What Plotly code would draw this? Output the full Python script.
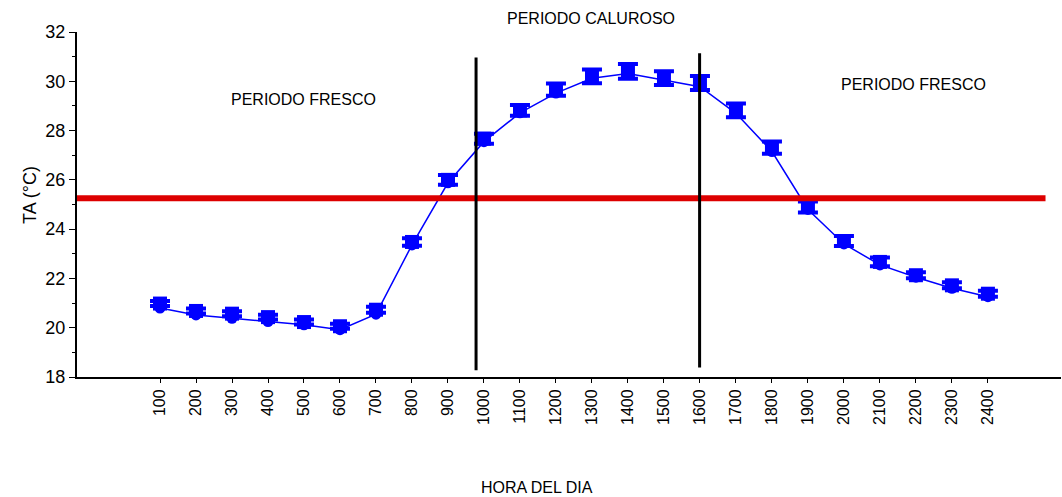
import plotly.graph_objects as go

FONT = "Liberation Sans, Arial, sans-serif"

hours = ["100", "200", "300", "400", "500", "600", "700", "800", "900", "1000", "1100", "1200",
         "1300", "1400", "1500", "1600", "1700", "1800", "1900", "2000", "2100", "2200", "2300", "2400"]
ta_squares = [20.98, 20.68, 20.57, 20.43, 20.23, 20.06, 20.73, 23.48, 26.0, 27.67, 28.82, 29.66,
              30.2, 30.4, 30.13, 29.93, 28.82, 27.31, 24.9, 23.52, 22.67, 22.13, 21.72, 21.38]
ta_err = [0.1, 0.1, 0.1, 0.1, 0.1, 0.1, 0.12, 0.15, 0.2, 0.2, 0.22, 0.25,
          0.28, 0.3, 0.28, 0.28, 0.28, 0.25, 0.22, 0.2, 0.18, 0.12, 0.12, 0.12]
ta_circles = [20.8, 20.52, 20.38, 20.25, 20.12, 19.92, 20.55, 23.36, 25.88, 27.55, 28.72, 29.52,
              30.12, 30.32, 30.05, 29.78, 28.7, 27.15, 24.8, 23.4, 22.55, 22.05, 21.6, 21.26]

threshold = 25.25
dividers = [9.78, 15.99]
divider_spans = [(18.27, 30.97), (18.39, 31.14)]

pos = list(range(1, len(hours) + 1))

fig = go.Figure()

fig.add_trace(go.Scatter(
    x=pos, y=ta_squares, mode="markers",
    marker=dict(symbol="square", size=14, color="#0000ff"),
    error_y=dict(type="data", array=ta_err, color="#0000ff", thickness=4, width=10),
    showlegend=False,
))
fig.add_trace(go.Scatter(
    x=pos, y=ta_circles, mode="lines+markers",
    line=dict(color="#0000ff", width=1.5),
    marker=dict(symbol="circle", size=11, color="#0000ff"),
    showlegend=False,
))

# umbral
fig.add_shape(type="line", xref="x", yref="y", x0=-1.306, x1=25.6, y0=threshold, y1=threshold,
              line=dict(color="#dd0000", width=6))
for xv, (y0, y1) in zip(dividers, divider_spans):
    fig.add_shape(type="line", xref="x", yref="y", x0=xv, x1=xv, y0=y0, y1=y1,
                  line=dict(color="black", width=3))

ann_font = dict(family=FONT, size=16, color="black")
fig.add_annotation(x=0.5224, y=1.0377, xref="paper", yref="paper", text="PERIODO CALUROSO",
                   showarrow=False, font=ann_font, yanchor="middle")
fig.add_annotation(x=5.0, y=29.27, xref="x", yref="y", text="PERIODO FRESCO",
                   showarrow=False, font=ann_font)
fig.add_annotation(x=21.94, y=29.86, xref="x", yref="y", text="PERIODO FRESCO",
                   showarrow=False, font=ann_font)
fig.add_annotation(x=0.4675, y=-0.3217, xref="paper", yref="paper", text="HORA DEL DIA",
                   showarrow=False, font=ann_font, yanchor="middle")
fig.add_annotation(x=-0.06, y=0.5275, xref="paper", yref="paper", text="TA (°C)",
                   showarrow=False, font=dict(family=FONT, size=18, color="black"),
                   textangle=-90)

fig.update_layout(
    width=1062, height=497,
    margin=dict(l=77, r=1, t=32, b=120),
    paper_bgcolor="white", plot_bgcolor="white",
    font=dict(family=FONT, color="black"),
    showlegend=False,
)
fig.update_xaxes(
    range=[-1.306, 26.03], tickvals=pos, ticktext=hours, tickangle=-90,
    showline=True, linecolor="black", linewidth=2, ticks="outside", ticklen=4,
    tickcolor="black", showgrid=False, zeroline=False,
    tickfont=dict(family=FONT, size=16, color="black"),
)
fig.update_yaxes(
    range=[18, 32], dtick=2, showline=True, linecolor="black", linewidth=2,
    ticks="outside", ticklen=6, tickcolor="black", showgrid=False, zeroline=False,
    tickfont=dict(family=FONT, size=18, color="black"),
    minor=dict(ticks="outside", dtick=1, ticklen=3, tickcolor="black"),
)

fig.write_html(
    "out.html",
    config={"displayModeBar": False},
    post_script="document.body.style.margin='0';document.body.style.overflow='hidden';",
)
